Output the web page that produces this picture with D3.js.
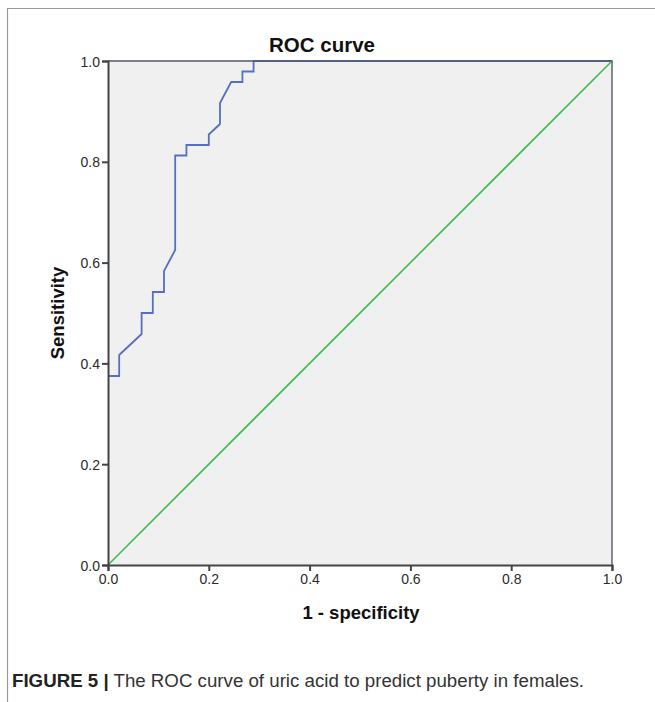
<!DOCTYPE html>
<html>
<head>
<meta charset="utf-8">
<script src="https://cdn.jsdelivr.net/npm/d3@7"></script>
<style>
  html, body { margin: 0; padding: 0; background: #fff; }
  svg { display: block; }
</style>
</head>
<body>
<svg id="chart" width="655" height="702"></svg>
<script>
// ROC curve points (1 - specificity, sensitivity)
const fpr = [0, 0.0222, 0.0222, 0.0667, 0.0667, 0.0889, 0.0889, 0.1111, 0.1111, 0.1333, 0.1333, 0.1556, 0.1556, 0.2, 0.2, 0.2222, 0.2222, 0.2444, 0.2667, 0.2667, 0.2889, 0.2889, 1.0];
const tpr = [0.375, 0.375, 0.4167, 0.4583, 0.5, 0.5, 0.5417, 0.5417, 0.5833, 0.625, 0.8125, 0.8125, 0.8333, 0.8333, 0.8542, 0.875, 0.9167, 0.9583, 0.9583, 0.9792, 0.9792, 1.0, 1.0];
const refX = [0, 1];
const refY = [0, 1];
const tickValues = [0, 0.2, 0.4, 0.6, 0.8, 1.0];
const titleText = "ROC curve";
const xLabel = "1 - specificity";
const yLabel = "Sensitivity";
const captionBold = "FIGURE 5 |";
const captionText = " The ROC curve of uric acid to predict puberty in females.";

const svg = d3.select("#chart");
const m = { left: 108, right: 612, top: 61, bottom: 565 };
const x = d3.scaleLinear().domain([0, 1]).range([m.left, m.right]);
const y = d3.scaleLinear().domain([0, 1]).range([m.bottom, m.top]);
const FONT = "'Liberation Sans', Arial, sans-serif";

// outer frame
svg.append("path")
  .attr("d", `M7.5,702 L7.5,8.5 L655,8.5`)
  .attr("fill", "none").attr("stroke", "#9a9a9a").attr("stroke-width", 1.2);

// plot background
svg.append("rect")
  .attr("x", m.left).attr("y", m.top)
  .attr("width", m.right - m.left).attr("height", m.bottom - m.top)
  .attr("fill", "#f0f0f0");

// reference diagonal
svg.append("path")
  .datum(refX.map((d, i) => [d, refY[i]]))
  .attr("d", d3.line().x(d => x(d[0])).y(d => y(d[1])))
  .attr("fill", "none").attr("stroke", "#3cbd4c").attr("stroke-width", 1.6);

// ROC curve
svg.append("path")
  .datum(fpr.map((d, i) => [d, tpr[i]]))
  .attr("d", d3.line().x(d => x(d[0])).y(d => y(d[1])))
  .attr("fill", "none").attr("stroke", "#5570c0").attr("stroke-width", 1.8);

// plot frame (top & right)
svg.append("path")
  .attr("d", `M${m.left},${m.top} L${m.right},${m.top} L${m.right},${m.bottom}`)
  .attr("fill", "none").attr("stroke", "#555a6a").attr("stroke-width", 1.4);

// axes
const xAxis = svg.append("g")
  .attr("transform", `translate(0,${m.bottom})`)
  .call(d3.axisBottom(x).tickValues(tickValues).tickFormat(d3.format(".1f")).tickSize(6).tickPadding(3));
const yAxis = svg.append("g")
  .attr("transform", `translate(${m.left},0)`)
  .call(d3.axisLeft(y).tickValues(tickValues).tickFormat(d3.format(".1f")).tickSize(6).tickPadding(2));

[xAxis, yAxis].forEach(g => {
  g.attr("font-size", 14).attr("font-family", FONT);
  g.select(".domain").attr("stroke", "#444").attr("stroke-width", 2);
  g.selectAll(".tick line").attr("stroke", "#444").attr("stroke-width", 2);
  g.selectAll(".tick text").attr("fill", "#2a2a2a");
});
yAxis.selectAll(".tick text").attr("dy", "0.36em");

// title
svg.append("text")
  .attr("x", 322).attr("y", 52)
  .attr("text-anchor", "middle")
  .attr("font-family", FONT)
  .attr("font-size", 20.5).attr("font-weight", "bold")
  .attr("fill", "#111")
  .text(titleText);

// axis labels
svg.append("text")
  .attr("x", 361).attr("y", 619)
  .attr("text-anchor", "middle")
  .attr("font-family", FONT)
  .attr("font-size", 18.5).attr("font-weight", "bold")
  .attr("fill", "#111")
  .text(xLabel);

svg.append("text")
  .attr("transform", `translate(64,${(m.top + m.bottom) / 2}) rotate(-90)`)
  .attr("text-anchor", "middle")
  .attr("font-family", FONT)
  .attr("font-size", 18.5).attr("font-weight", "bold")
  .attr("fill", "#111")
  .text(yLabel);

// caption
const cap = svg.append("text")
  .attr("x", 12).attr("y", 687)
  .attr("font-family", FONT)
  .attr("font-size", 18.7)
  .attr("fill", "#333");
cap.append("tspan").attr("font-weight", "bold").attr("fill", "#222").text(captionBold);
cap.append("tspan").text(captionText);
</script>
</body>
</html>
